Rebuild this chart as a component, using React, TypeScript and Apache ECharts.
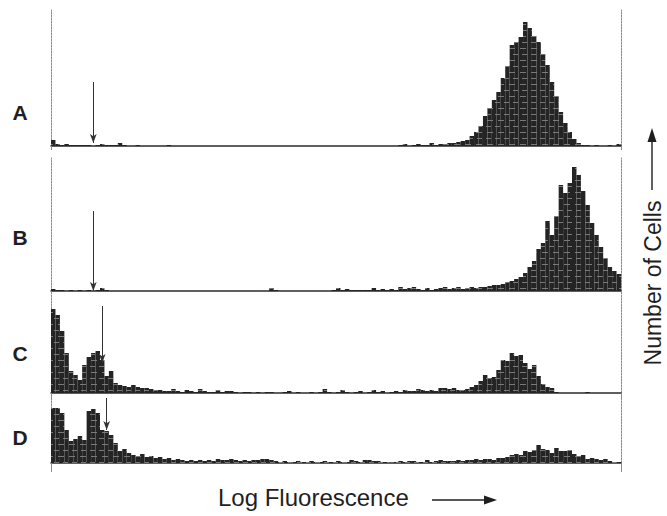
import React, { useEffect, useRef } from "react";
import * as echarts from "echarts";

// Channel numbers along the log-fluorescence axis (128 channels)
const channels: string[] = Array.from({ length: 128 }, (_, i) => String(i));

const panelLabels = ["A", "B", "C", "D"];

// Cell counts per channel, one histogram per panel
const countsA = [
  6, 2, 1, 2, 1, 1, 1, 1, 1, 0, 1, 2, 1, 1, 1, 3, 1, 0, 0, 1,
  0, 0, 0, 0, 0, 0, 1, 0, 0, 0, 0, 0, 0, 0, 0, 0, 0, 0, 0, 0,
  0, 0, 0, 0, 0, 0, 0, 0, 0, 0, 0, 0, 0, 0, 0, 0, 0, 0, 0, 0,
  0, 0, 0, 0, 0, 0, 0, 0, 0, 0, 0, 0, 0, 0, 0, 0, 0, 0, 1, 2,
  0, 1, 2, 1, 1, 3, 1, 2, 2, 3, 3, 4, 5, 6, 10, 14, 20, 30, 38, 46,
  54, 68, 80, 101, 104, 109, 124, 118, 110, 104, 92, 81, 64, 50, 34, 23, 14, 7, 3, 1,
  1, 0, 1, 0, 0, 1, 0, 2,
];
const countsB = [
  2, 1, 1, 0, 1, 0, 1, 0, 1, 0, 1, 3, 1, 0, 0, 0, 0, 0, 0, 0,
  0, 0, 0, 0, 0, 0, 0, 0, 0, 0, 0, 0, 0, 0, 0, 0, 0, 0, 0, 0,
  0, 0, 0, 0, 0, 0, 0, 0, 0, 3, 1, 0, 0, 0, 0, 0, 0, 0, 0, 0,
  0, 0, 0, 1, 3, 1, 2, 1, 1, 1, 1, 1, 3, 1, 2, 1, 2, 1, 4, 2,
  3, 4, 2, 1, 3, 1, 2, 3, 4, 2, 3, 4, 2, 3, 4, 3, 4, 4, 5, 6,
  6, 7, 9, 10, 12, 14, 18, 24, 30, 42, 48, 70, 56, 75, 106, 98, 108, 124, 116, 100,
  86, 68, 56, 44, 33, 24, 20, 17,
];
const countsC = [
  84, 78, 62, 40, 22, 18, 13, 28, 36, 40, 42, 33, 17, 22, 10, 8, 7, 6, 8, 6,
  5, 5, 4, 3, 3, 2, 2, 4, 2, 1, 3, 2, 1, 4, 2, 1, 1, 3, 1, 2,
  2, 1, 0, 1, 1, 0, 1, 0, 1, 1, 0, 0, 1, 2, 0, 1, 0, 0, 1, 0,
  1, 4, 1, 0, 1, 3, 1, 0, 1, 2, 0, 1, 3, 1, 2, 0, 1, 2, 1, 3,
  2, 2, 4, 3, 2, 3, 2, 5, 5, 4, 5, 3, 3, 4, 6, 8, 12, 18, 15, 16,
  23, 33, 32, 40, 37, 38, 30, 24, 28, 17, 9, 6, 5, 1, 0, 0, 0, 0, 0, 0,
  1, 0, 0, 0, 0, 0, 0, 0,
];
const countsD = [
  55, 55, 50, 33, 22, 24, 27, 23, 52, 54, 50, 33, 32, 28, 20, 12, 14, 10, 8, 7,
  9, 6, 7, 5, 6, 4, 5, 3, 4, 3, 2, 3, 2, 3, 2, 3, 2, 4, 3, 3,
  4, 3, 2, 3, 2, 3, 3, 4, 4, 3, 2, 1, 2, 1, 1, 2, 1, 1, 2, 1,
  1, 2, 1, 1, 2, 1, 1, 3, 2, 1, 3, 3, 2, 2, 1, 1, 0, 1, 2, 1,
  2, 2, 1, 1, 3, 1, 2, 3, 2, 2, 2, 3, 2, 3, 3, 4, 3, 4, 4, 3,
  5, 5, 6, 8, 9, 8, 12, 11, 13, 18, 14, 13, 10, 15, 12, 12, 13, 9, 7, 8,
  4, 5, 4, 3, 4, 2, 1, 1,
];
const panelCounts = [countsA, countsB, countsC, countsD];

// Full-scale count of each panel's vertical axis
const panelMax = [136, 133, 99, 65];

// Gate channel marked by the arrow, and the arrow's start / tip in counts
const gateChannel = [9, 9, 11, 12];
const arrowFrom = [64, 80, 87, 65];
const arrowTo = [3, 0, 30, 33];

const GRID_TOP = [10, 158, 294, 398];
const GRID_LEFT = 51;
const GRID_RIGHT = 46;
const TICK_LEN = [4, 3, 5, 9];
const LABEL_Y = [112, 237, 353, 437];

const FONT = "'Liberation Sans', Arial, Helvetica, sans-serif";
const INK = "#1f1f1f";
const FRAME = "#8c8c8c";

export default function App() {
  const ref = useRef<HTMLDivElement>(null);

  useEffect(() => {
    if (!ref.current) return;
    const chart = echarts.init(ref.current, undefined, { renderer: "svg" });

    const grid = panelMax.map((h, i) => ({
      left: GRID_LEFT,
      right: GRID_RIGHT,
      top: GRID_TOP[i],
      height: h,
    }));

    const xAxis = panelMax.map((_, i) => ({
      type: "category",
      gridIndex: i,
      data: channels,
      boundaryGap: true,
      axisLine: { show: true, lineStyle: { color: "#2b2b2b", width: 1.5 } },
      axisTick: {
        show: true,
        interval: (idx: number) => idx === 0,
        length: TICK_LEN[i],
        lineStyle: { color: FRAME, width: 1 },
      },
      axisLabel: { show: false },
      splitLine: { show: false },
    }));

    const frameAxis = (i: number, position: "left" | "right") => ({
      type: "value",
      gridIndex: i,
      position,
      min: 0,
      max: panelMax[i],
      axisLine: {
        show: true,
        onZero: false,
        lineStyle: { color: FRAME, width: 1, type: [2, 1] },
      },
      axisTick: { show: false },
      axisLabel: { show: false },
      splitLine: { show: false },
    });

    const yAxis: any[] = [];
    panelMax.forEach((_, i) => {
      yAxis.push(frameAxis(i, "left"));
      yAxis.push(frameAxis(i, "right"));
    });

    const series = panelCounts.map((counts, i) => ({
      type: "bar",
      name: panelLabels[i],
      xAxisIndex: i,
      yAxisIndex: i * 2,
      data: counts,
      barWidth: "100%",
      barCategoryGap: "0%",
      itemStyle: {
        color: "#242424",
        decal: {
          symbol: "rect",
          symbolSize: 1,
          color: "rgba(225,225,225,0.45)",
          dashArrayX: [
            [5, 4],
            [0, 3, 6, 2],
          ],
          dashArrayY: [1, 5],
        },
      },
      markLine: {
        silent: true,
        symbol: ["none", "arrow"],
        symbolSize: [5, 9],
        label: { show: false },
        lineStyle: { color: "#333", width: 1, type: "solid" },
        data: [
          [
            { coord: [String(gateChannel[i]), arrowFrom[i]] },
            { coord: [String(gateChannel[i]), arrowTo[i]] },
          ],
        ],
      },
    }));

    const letters = panelLabels.map((t, i) => ({
      type: "text",
      x: 20,
      y: LABEL_Y[i],
      style: {
        text: t,
        font: `bold 21px ${FONT}`,
        fill: INK,
        textAlign: "center",
        textVerticalAlign: "middle",
      },
    }));

    const graphic = [
      ...letters,
      {
        type: "text",
        x: 218,
        y: 497,
        style: {
          text: "Log Fluorescence",
          font: `24px ${FONT}`,
          fill: INK,
          textAlign: "left",
          textVerticalAlign: "middle",
        },
      },
      {
        type: "line",
        shape: { x1: 432, y1: 500, x2: 486, y2: 500 },
        style: { stroke: INK, lineWidth: 1.4 },
      },
      {
        type: "polygon",
        shape: { points: [[484, 495.5], [497, 500], [484, 504.5]] },
        style: { fill: INK },
      },
      {
        type: "text",
        x: 653,
        y: 283,
        rotation: Math.PI / 2,
        style: {
          text: "Number of Cells",
          font: `23px ${FONT}`,
          fill: INK,
          textAlign: "center",
          textVerticalAlign: "middle",
        },
      },
      {
        type: "line",
        shape: { x1: 652, y1: 190, x2: 652, y2: 140 },
        style: { stroke: INK, lineWidth: 1.4 },
      },
      {
        type: "polygon",
        shape: { points: [[647.5, 142], [652, 128], [656.5, 142]] },
        style: { fill: INK },
      },
    ];

    chart.setOption({
      animation: false,
      backgroundColor: "#ffffff",
      grid,
      xAxis,
      yAxis,
      series,
      graphic,
    } as any);

    return () => chart.dispose();
  }, []);

  return (
    <div
      ref={ref}
      style={{ position: "fixed", left: 0, top: 0, width: 667, height: 516 }}
    />
  );
}
